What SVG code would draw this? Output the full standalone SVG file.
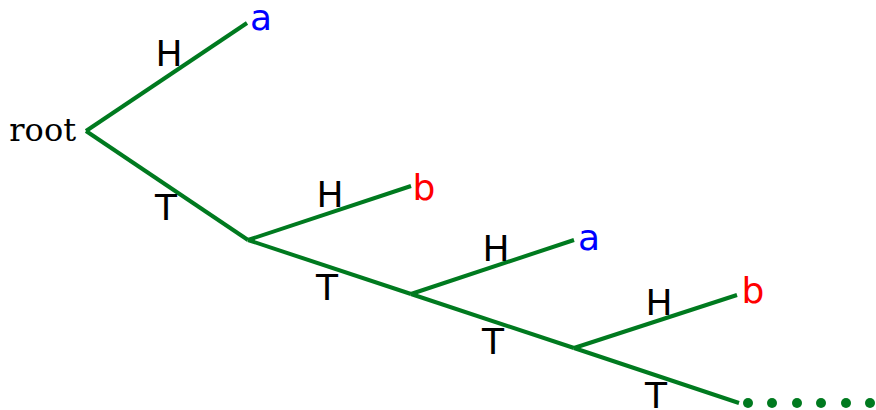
<svg xmlns="http://www.w3.org/2000/svg" width="876" height="410" viewBox="0 0 876 410">
<style>
.e{stroke:#007a1f;stroke-width:4;fill:none;stroke-linecap:butt}
.l{font-family:"DejaVu Sans",sans-serif;font-size:36px;fill:#000;text-anchor:middle}
.n{font-family:"DejaVu Sans",sans-serif;font-size:36px;text-anchor:middle}
.d{fill:#007a1f}
</style>
<rect width="876" height="410" fill="#fff"/>
<g id="connectors">
<line class="e" x1="86" y1="131" x2="247" y2="23"/>
<line class="e" x1="86" y1="131" x2="248" y2="240"/>
<line class="e" x1="248" y1="240" x2="411" y2="186"/>
<line class="e" x1="248" y1="240" x2="411" y2="294"/>
<line class="e" x1="411" y1="294" x2="574" y2="240"/>
<line class="e" x1="411" y1="294" x2="574" y2="348"/>
<line class="e" x1="574" y1="348" x2="737" y2="295"/>
<line class="e" x1="574" y1="348" x2="739" y2="403"/>
<text class="l" x="169" y="66">H</text>
<text class="l" x="166" y="220">T</text>
<text class="l" x="330" y="207">H</text>
<text class="l" x="327" y="300">T</text>
<text class="l" x="496" y="261">H</text>
<text class="l" x="493" y="354">T</text>
<text class="l" x="659" y="315">H</text>
<text class="l" x="656" y="408">T</text>
</g>
<g id="root"><text x="76" y="141" style="font-family:'DejaVu Serif',serif;font-size:32px;text-anchor:end">root</text></g>
<g id="a1"><text class="n" x="261" y="30" fill="#0000ff">a</text></g>
<g id="b1"><text class="n" x="424" y="200" fill="#ff0000">b</text></g>
<g id="a2"><text class="n" x="589" y="250" fill="#0000ff">a</text></g>
<g id="b2"><text class="n" x="753" y="303" fill="#ff0000">b</text></g>
<g id="dots">
<circle class="d" cx="748" cy="403" r="5"/>
<circle class="d" cx="772" cy="403" r="5"/>
<circle class="d" cx="797" cy="403" r="5"/>
<circle class="d" cx="821" cy="403" r="5"/>
<circle class="d" cx="846" cy="403" r="5"/>
<circle class="d" cx="870" cy="403" r="5"/>
</g>
</svg>
